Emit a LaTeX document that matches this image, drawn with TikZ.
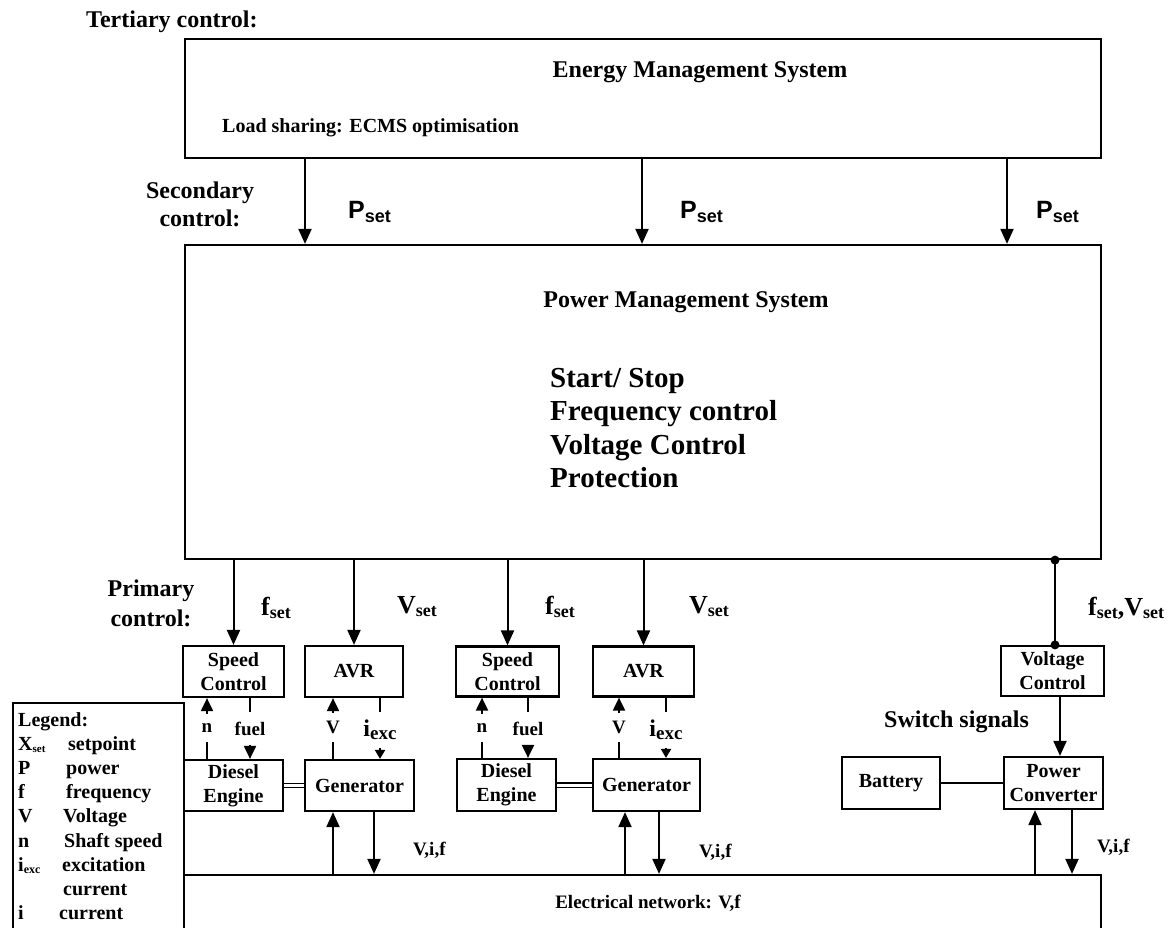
\documentclass[tikz,border=0pt]{standalone}
\usepackage{fontspec}
\setmainfont{Liberation Serif}
\newfontfamily\arialfont{Liberation Sans}
\usetikzlibrary{arrows.meta,calc}
\newcommand{\sx}[4]{#1\raisebox{-#4}{\fontsize{#3}{#3}\selectfont #2}}
\begin{document}
\begin{tikzpicture}[x=1pt,y=-1pt,
  box/.style={draw, line width=2.2pt, inner sep=0pt, align=center, font=\bfseries\fontsize{20}{24}\selectfont},
  bigbox/.style={draw, line width=2.2pt, inner sep=0pt},
  txt/.style={inner sep=0pt, font=\bfseries\fontsize{24}{28}\selectfont},
  arr/.style={line width=2pt, -{Triangle[length=15pt,width=13pt]}},
  sarr/.style={line width=2pt, -{Triangle[length=13pt,width=12pt]}},
  tarr/.style={line width=2pt, -{Triangle[length=9pt,width=10pt]}},
  wire/.style={line width=2pt},
  sig/.style={inner sep=0pt, font=\bfseries\fontsize{19}{19}\selectfont, minimum height=#1},
  leg/.style={anchor=west, inner sep=0pt, text height=14pt, text depth=4pt, font=\bfseries\fontsize{20}{20}\selectfont},
  ptxt/.style={inner sep=0pt, anchor=west, font=\arialfont\bfseries\fontsize{25}{25}\selectfont},
  stxt/.style={inner sep=0pt, anchor=west, font=\bfseries\fontsize{26}{26}\selectfont},
  vtxt/.style={inner sep=0pt, anchor=west, font=\bfseries\fontsize{19}{19}\selectfont},
]
\useasboundingbox (0,0) rectangle (1173,927);
\clip (0,0) rectangle (1173,927);

% big boxes
\node[bigbox, minimum width=916pt, minimum height=119pt] (ems) at (643,98.5) {};
\node[bigbox, minimum width=916pt, minimum height=314pt] (pms) at (643,402) {};
\node[bigbox, minimum width=917pt, minimum height=90pt] (net) at (642.5,920) {};
\node[bigbox, minimum width=171pt, minimum height=260pt] (legbox) at (98.5,833) {};

% small boxes
\node[box, minimum width=101pt, minimum height=51pt] (sc1) at (233.5,671.5) {Speed\\Control};
\node[box, minimum width=98pt, minimum height=51pt] (avr1) at (354,671.5) {AVR};
\node[box, minimum width=99pt, minimum height=51pt] (de1) at (233.5,785.5) {Diesel\\Engine};
\node[box, minimum width=109pt, minimum height=51pt] (gen1) at (359.5,785.5) {Generator};
\node[box, minimum width=103pt, minimum height=50pt] (sc2) at (507.5,671.5) {Speed\\Control};
\node[box, minimum width=101pt, minimum height=50pt] (avr2) at (643.5,671.5) {AVR};
\node[box, minimum width=99pt, minimum height=52pt] (de2) at (506.5,785) {Diesel\\Engine};
\node[box, minimum width=107pt, minimum height=52pt] (gen2) at (646.5,785) {Generator};
\node[box, minimum width=103pt, minimum height=50pt] (vc) at (1052.5,671) {Voltage\\Control};
\node[box, minimum width=99pt, minimum height=52pt] (pc) at (1053.5,783) {Power\\Converter};
\node[box, minimum width=98pt, minimum height=52pt] (bat) at (891,783) {Battery};

% texts
\node[txt, anchor=west] (tert) at (86,22) {Tertiary control:};
\node[txt, align=center] (sec) at (200,204) {Secondary\\control:};
\node[txt, align=center, font=\bfseries\fontsize{24}{30}\selectfont] (prim) at (151,603) {Primary\\control:};
\node[txt] (emst) at (700,72) {Energy Management System};
\node[txt, anchor=west, font=\bfseries\fontsize{20}{20}\selectfont] (load) at (222,128) {Load sharing: ECMS optimisation};
\node[txt] (pmst) at (686,302) {Power Management System};
\node[txt, anchor=base west, font=\bfseries\fontsize{29}{29}\selectfont] (l1) at (550,387) {Start/ Stop};
\node[txt, anchor=base west, font=\bfseries\fontsize{29}{29}\selectfont] (l2) at (550,420) {Frequency control};
\node[txt, anchor=base west, font=\bfseries\fontsize{29}{29}\selectfont] (l3) at (550,454) {Voltage Control};
\node[txt, anchor=base west, font=\bfseries\fontsize{29}{29}\selectfont] (l4) at (550,487) {Protection};

\node[ptxt] (ps1) at (348,212) {\sx{P}{set}{18}{4pt}};
\node[ptxt] (ps2) at (680,212) {\sx{P}{set}{18}{4pt}};
\node[ptxt] (ps3) at (1036,212) {\sx{P}{set}{18}{4pt}};

\node[stxt] (fs1) at (261,608) {\sx{f}{set}{18}{3pt}};
\node[stxt] (vs1) at (397,607) {\sx{V}{set}{18}{3pt}};
\node[stxt] (fs2) at (545,607) {\sx{f}{set}{18}{3pt}};
\node[stxt] (vs2) at (689,607) {\sx{V}{set}{18}{3pt}};
\node[stxt] (fvs) at (1088,608) {\sx{f}{set}{18}{3pt},\sx{V}{set}{18}{3pt}};

\node[txt] (sw) at (956.5,722) {Switch signals};
\node[vtxt] (vif1) at (413,850) {V,i,f};
\node[vtxt] (vif2) at (699,852) {V,i,f};
\node[vtxt] (vif3) at (1097,847) {V,i,f};
\node[txt, font=\bfseries\fontsize{19}{19}\selectfont] (netl) at (648,903) {Electrical network: V,f};

% legend
\node[leg] (lg0) at (18,721) {Legend:};
\node[leg] (lgxa) at (18,745) {\sx{X}{set}{11}{2pt}};
\node[leg] (lgxb) at (68,745) {setpoint};
\node[leg] (lgpa) at (18,769) {P};
\node[leg] (lgpb) at (66,769) {power};
\node[leg] (lgfa) at (18,793) {f};
\node[leg] (lgfb) at (66,793) {frequency};
\node[leg] (lgva) at (18,817) {V};
\node[leg] (lgvb) at (63,817) {Voltage};
\node[leg] (lgna) at (18,842) {n};
\node[leg] (lgnb) at (64,842) {Shaft speed};
\node[leg] (lgia) at (18,866) {\sx{i}{exc}{12}{2pt}};
\node[leg] (lgib) at (62,866) {excitation};
\node[leg] (lgic) at (63,890) {current};
\node[leg] (lgja) at (18,914) {i};
\node[leg] (lgjb) at (59,914) {current};

% EMS -> PMS
\coordinate (a1) at (305,0);
\coordinate (a2) at (642,0);
\coordinate (a3) at (1007,0);
\draw[arr] (a1 |- ems.south) -- (a1 |- pms.north);
\draw[arr] (a2 |- ems.south) -- (a2 |- pms.north);
\draw[arr] (a3 |- ems.south) -- (a3 |- pms.north);

% PMS -> primary controllers
\draw[arr] (sc1.north |- pms.south) -- (sc1.north);
\draw[arr] (avr1.north |- pms.south) -- (avr1.north);
\draw[arr] (sc2.north |- pms.south) -- (sc2.north);
\draw[arr] (avr2.north |- pms.south) -- (avr2.north);

\coordinate (vd) at (1055,0);
\draw[wire] (vd |- pms.south) -- (vd |- vc.north);
\fill (vd |- pms.south) circle (4.5pt);
\fill (vd |- vc.north) circle (4.5pt);
\coordinate (vp) at (1060,0);
\draw[arr] (vp |- vc.south) -- (vp |- pc.north);
\draw[wire] (bat.east) -- (pc.west);

% unit 1 signals
\node[sig=28pt] (n1) at (207,728) {n};
\draw[wire] (de1.north -| n1) -- (n1.south);
\draw[sarr] (n1.north) -- (sc1.south -| n1);
\node[sig=33pt] (fu1) at (250,728.5) {fuel};
\draw[wire] (sc1.south -| fu1) -- (fu1.north);
\draw[sarr] (fu1.south) -- (de1.north -| fu1);
\node[sig=29pt] (v1) at (333,727.5) {V};
\draw[wire] (gen1.north -| v1) -- (v1.south);
\draw[sarr] (v1.north) -- (avr1.south -| v1);
\node[sig=36pt, font=\bfseries\fontsize{24}{24}\selectfont] (i1) at (380,730) {\sx{i}{exc}{19}{3pt}};
\draw[wire] (avr1.south -| i1) -- (i1.north);
\draw[tarr] (i1.south) -- (gen1.north -| i1);
\draw[double, double distance=3pt, line width=1.2pt] (de1.east) -- (gen1.west);

% unit 2 signals
\node[sig=28pt] (n2) at (482,728) {n};
\draw[wire] (de2.north -| n2) -- (n2.south);
\draw[sarr] (n2.north) -- (sc2.south -| n2);
\node[sig=33pt] (fu2) at (528,728.5) {fuel};
\draw[wire] (sc2.south -| fu2) -- (fu2.north);
\draw[sarr] (fu2.south) -- (de2.north -| fu2);
\node[sig=29pt] (v2) at (619,727.5) {V};
\draw[wire] (gen2.north -| v2) -- (v2.south);
\draw[sarr] (v2.north) -- (avr2.south -| v2);
\node[sig=36pt, font=\bfseries\fontsize{24}{24}\selectfont] (i2) at (666,730) {\sx{i}{exc}{19}{3pt}};
\draw[wire] (avr2.south -| i2) -- (i2.north);
\draw[tarr] (i2.south) -- (gen2.north -| i2);
\draw[double, double distance=3pt, line width=1.2pt] (de2.east) -- (gen2.west);

% network connections
\coordinate (u1) at (333,0);
\coordinate (w1) at (374,0);
\coordinate (u2) at (625,0);
\coordinate (w2) at (659,0);
\coordinate (u3) at (1035,0);
\coordinate (w3) at (1072,0);
\draw[arr] (u1 |- net.north) -- (u1 |- gen1.south);
\draw[arr] (w1 |- gen1.south) -- (w1 |- net.north);
\draw[arr] (u2 |- net.north) -- (u2 |- gen2.south);
\draw[arr] (w2 |- gen2.south) -- (w2 |- net.north);
\draw[arr] (u3 |- net.north) -- (u3 |- pc.south);
\draw[arr] (w3 |- pc.south) -- (w3 |- net.north);
\end{tikzpicture}
\end{document}
